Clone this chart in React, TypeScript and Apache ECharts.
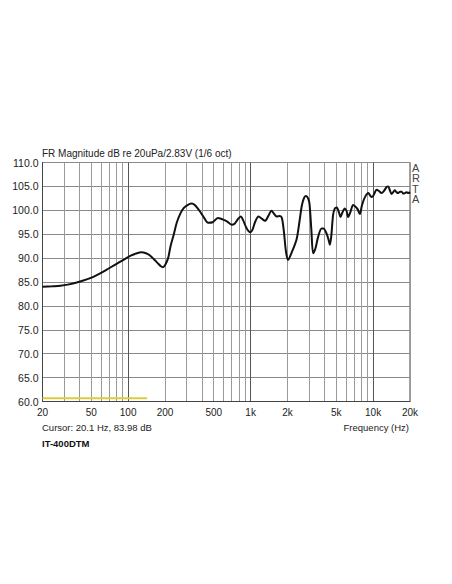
import React, { useEffect, useRef } from "react";
import * as echarts from "echarts";

const freqs = [20, 24, 28, 33, 38, 43, 49, 56, 66, 78, 91, 105, 118, 128, 140, 150, 162, 175, 185, 192, 200, 212, 222, 235, 250, 268, 285, 305, 330, 350, 385, 420, 450, 490, 540, 590, 640, 700, 740, 790, 830, 870, 925, 990, 1030, 1090, 1160, 1240, 1310, 1400, 1480, 1560, 1630, 1730, 1800, 1870, 1940, 2020, 2150, 2370, 2500, 2620, 2730, 2820, 2920, 3020, 3130, 3240, 3380, 3560, 3800, 3930, 4160, 4330, 4430, 4550, 4710, 4870, 5050, 5250, 5420, 5600, 5870, 6080, 6250, 6500, 6870, 7150, 7450, 7790, 8100, 8560, 9140, 9500, 9800, 10200, 10660, 11200, 11700, 12300, 12900, 13250, 13700, 14130, 14600, 15000, 15500, 16000, 16600, 17100, 17600, 18200, 18800, 19400, 20000];
const magnitudeDb = [84.0, 84.1, 84.2, 84.5, 84.9, 85.3, 85.8, 86.5, 87.5, 88.6, 89.6, 90.5, 91.0, 91.2, 91.0, 90.6, 89.8, 88.9, 88.3, 88.1, 88.5, 90.0, 92.5, 94.8, 97.5, 99.4, 100.5, 101.1, 101.4, 101.1, 99.8, 98.3, 97.4, 97.5, 98.4, 98.1, 97.7, 97.0, 97.2, 98.2, 98.7, 97.9, 96.3, 95.4, 95.8, 97.6, 98.7, 98.2, 97.8, 98.9, 99.9, 99.2, 98.7, 98.8, 98.4, 95.5, 91.5, 89.6, 91.0, 93.9, 97.5, 101.0, 102.6, 103.0, 102.7, 101.5, 96.0, 91.0, 92.0, 94.5, 96.2, 96.2, 95.2, 93.8, 92.8, 94.5, 99.0, 100.4, 100.6, 99.6, 98.6, 99.5, 100.4, 99.8, 98.6, 99.5, 101.1, 100.8, 100.3, 99.2, 101.0, 102.7, 103.6, 103.0, 102.8, 103.4, 104.3, 104.0, 103.6, 104.1, 104.9, 105.0, 104.2, 103.4, 103.8, 104.2, 103.8, 103.6, 103.9, 103.9, 103.5, 103.6, 103.8, 103.6, 103.8];

const cursorFreqs = [20, 143];
const cursorDb = [60.7, 60.7];

const gridFreqs = [20, 30, 40, 50, 60, 70, 80, 90, 100, 200, 300, 400, 500, 600, 700, 800, 900, 1000, 2000, 3000, 4000, 5000, 6000, 7000, 8000, 9000, 10000, 20000];
const decadeFreqs = [100, 1000, 10000];
const xTickLabels: Record<number, string> = { 20: "20", 50: "50", 100: "100", 200: "200", 500: "500", 1000: "1k", 2000: "2k", 5000: "5k", 10000: "10k", 20000: "20k" };
const labelFreqs = [20, 50, 100, 200, 500, 1000, 2000, 5000, 10000, 20000];

const FONT = "Liberation Sans, Arial, sans-serif";

export default function App() {
  const ref = useRef<HTMLDivElement>(null);
  useEffect(() => {
    if (!ref.current) return;
    const chart = echarts.init(ref.current, null, { renderer: "svg" });
    const gridBox = { left: 42.5, right: 42, top: 162.5, bottom: 182.5 };
    chart.setOption({
      animation: false,
      backgroundColor: "#ffffff",
      grid: { ...gridBox, show: true, borderColor: "#444", borderWidth: 1, backgroundColor: "transparent" },
      xAxis: [
        {
          type: "log",
          logBase: 10,
          min: 20,
          max: 20000,
          axisLine: { show: true, lineStyle: { color: "#444" } },
          axisTick: { show: false, customValues: gridFreqs },
          axisLabel: {
            customValues: labelFreqs,
            formatter: (v: number) => xTickLabels[Math.round(v)] ?? "",
            color: "#222",
            fontFamily: FONT,
            fontSize: 10,
            margin: 6,
          },
          splitLine: { show: true, lineStyle: { color: "#9a9a9a", width: 1 } },
        },
        {
          type: "log",
          logBase: 10,
          min: 20,
          max: 20000,
          position: "bottom",
          axisLine: { show: false },
          axisTick: { show: false, customValues: decadeFreqs },
          axisLabel: { show: false, customValues: decadeFreqs },
          splitLine: { show: true, lineStyle: { color: "#555", width: 1 } },
        },
      ],
      yAxis: {
        type: "value",
        min: 60,
        max: 110,
        interval: 5,
        axisLine: { show: true, lineStyle: { color: "#444" } },
        axisTick: { show: false },
        axisLabel: {
          formatter: (v: number) => v.toFixed(1),
          color: "#222",
          fontFamily: FONT,
          fontSize: 10.5,
          margin: 4,
        },
        splitLine: { show: true, lineStyle: { color: "#8a8a8a", width: 1 } },
      },
      series: [
        {
          type: "line",
          xAxisIndex: 0,
          data: cursorFreqs.map((f, i) => [f, cursorDb[i]]),
          showSymbol: false,
          lineStyle: { color: "#d8cf3a", width: 2 },
          z: 3,
        },
        {
          type: "line",
          xAxisIndex: 0,
          data: freqs.map((f, i) => [f, magnitudeDb[i]]),
          showSymbol: false,
          smooth: 0.3,
          lineStyle: { color: "#111", width: 2 },
          z: 4,
        },
      ],
      graphic: [
        { type: "text", left: 42, top: 148.5, style: { text: "FR Magnitude dB re 20uPa/2.83V (1/6 oct)", font: `10px ${FONT}`, fill: "#222" } },
        { type: "text", left: 42, top: 422, style: { text: "Cursor: 20.1 Hz, 83.98 dB", font: `9.5px ${FONT}`, fill: "#222" } },
        { type: "text", left: 42, top: 438, style: { text: "IT-400DTM", font: `bold 9.5px ${FONT}`, fill: "#111" } },
        { type: "text", right: 43, top: 422, style: { text: "Frequency (Hz)", font: `9.5px ${FONT}`, fill: "#222" } },
        { type: "text", left: 412, top: 162, style: { text: "A\nR\nT\nA", font: `11px ${FONT}`, fill: "#444", lineHeight: 10.5 } },
      ],
    });
    return () => chart.dispose();
  }, []);
  return <div ref={ref} style={{ position: "fixed", left: 0, top: 0, width: 452, height: 584, background: "#fff" }} />;
}
